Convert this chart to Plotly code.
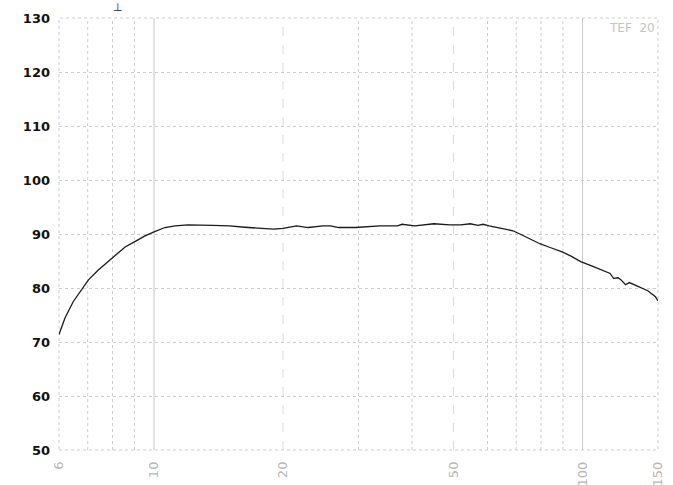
import math
import plotly.graph_objects as go

# Frequency response measurement (Hz, dB SPL)
freq = [6.0, 6.2, 6.48, 6.75, 7.03, 7.4, 7.82, 8.2, 8.56, 9.02, 9.5, 10.0, 10.6, 11.2,
        12.0, 13.7, 15.0, 16.3, 17.8, 19.0, 20.0, 21.5, 22.9, 24.8, 25.8, 27.0, 29.5,
        32.0, 33.7, 37.0, 37.9, 40.6, 44.1, 45.0, 49.0, 52.0, 54.7, 57.0, 58.6, 60.5,
        64.2, 66.5, 68.8, 71.4, 75.0, 79.5, 84.0, 89.6, 94.0, 99.0, 105.0, 111.8, 116.0,
        118.1, 121.0, 123.0, 126.0, 128.6, 133.0, 138.5, 142.0, 144.7, 148.0, 150.0]
spl = [71.4, 74.5, 77.5, 79.6, 81.5, 83.3, 84.9, 86.4, 87.6, 88.6, 89.6, 90.4, 91.2, 91.5,
       91.7, 91.6, 91.5, 91.25, 91.1, 90.9, 91.05, 91.5, 91.2, 91.5, 91.5, 91.2, 91.2,
       91.4, 91.5, 91.5, 91.8, 91.5, 91.8, 91.9, 91.7, 91.7, 91.9, 91.6, 91.8, 91.5,
       91.1, 90.9, 90.6, 90.0, 89.2, 88.2, 87.5, 86.7, 85.9, 84.9, 84.1, 83.3, 82.7,
       81.8, 81.9, 81.5, 80.6, 81.0, 80.5, 79.9, 79.5, 79.0, 78.4, 77.6]

x_ticks = [6, 10, 20, 50, 100, 150]
y_ticks = list(range(50, 131, 10))

# vertical grid: decades solid, 20/50 dashed, the rest dotted
grid_solid = [10, 100]
grid_dash = [20, 50]
grid_dot = [7, 8, 9, 30, 40, 60, 70, 80, 90]

fig = go.Figure()
fig.add_trace(go.Scatter(x=freq, y=spl, mode="lines",
                         line=dict(color="#1a1a1a", width=1.3),
                         hoverinfo="skip", showlegend=False))

shapes = []
for vals, dash, col in ((grid_dot, "dot", "#cdcdcd"),
                        (grid_dash, "dash", "#dcdcdc"),
                        (grid_solid, "solid", "#c8c8c8")):
    for v in vals:
        shapes.append(dict(type="line", xref="x", yref="paper", x0=v, x1=v, y0=0, y1=1,
                           line=dict(color=col, width=1, dash=dash), layer="below"))
shapes.append(dict(type="rect", xref="paper", yref="paper", x0=0, x1=1, y0=0, y1=1,
                   line=dict(color="#cdcdcd", width=1, dash="dot"), layer="below"))

fig.update_layout(
    width=673, height=485,
    margin=dict(l=59, r=15, t=18, b=35),
    paper_bgcolor="white", plot_bgcolor="white",
    shapes=shapes,
    xaxis=dict(type="log", range=[math.log10(6), math.log10(150)],
               tickvals=x_ticks, ticktext=[str(v) for v in x_ticks],
               tickangle=-90, showgrid=False, zeroline=False, showline=False,
               ticks="", automargin=False, ticklabelstandoff=8,
               tickfont=dict(family="DejaVu Sans", size=13, color="#b8b8b8")),
    yaxis=dict(range=[50, 130], tickvals=y_ticks, showgrid=True,
               gridcolor="#cdcdcd", griddash="dot", gridwidth=1,
               zeroline=False, showline=False, ticks="", automargin=False,
               ticklabelstandoff=8,
               tickfont=dict(family="DejaVu Sans", size=13, color="#111111", weight="bold")),
    annotations=[
        dict(text="TEF  20", xref="paper", yref="paper", x=0.998, y=0.998,
             xanchor="right", yanchor="top", showarrow=False,
             font=dict(family="DejaVu Sans", size=12, color="#c4c4c4")),
        dict(text="⊥", xref="paper", yref="paper", x=(118 - 59) / 599, y=1.0,
             yshift=2, xanchor="center", yanchor="bottom", showarrow=False,
             font=dict(family="DejaVu Sans", size=11, color="#222222")),
    ],
)

fig.write_html("out.html")
